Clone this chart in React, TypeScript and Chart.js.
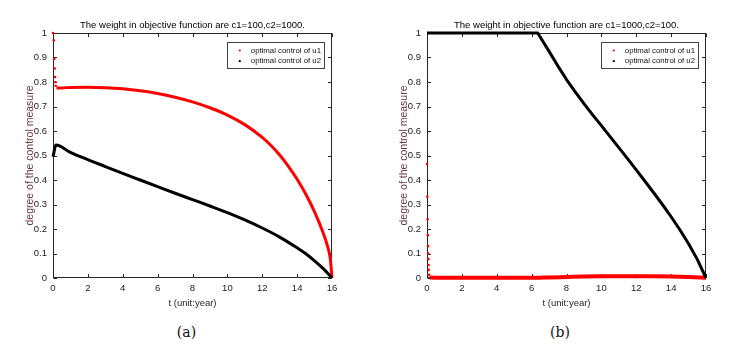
import React, { useEffect, useRef } from 'react';
import { Chart, registerables } from 'chart.js';

Chart.register(...registerables);

// ---------- tick labels ----------
const xTicks = [0, 2, 4, 6, 8, 10, 12, 14, 16];
const yTicks = [0, 0.1, 0.2, 0.3, 0.4, 0.5, 0.6, 0.7, 0.8, 0.9, 1];

// ---------- panel (a): c1=100, c2=1000 ----------
const tU1a = [0, 0.05, 0.08, 0.1, 0.12, 0.14, 0.16, 0.2, 0.5, 1, 2, 3, 4, 5, 6, 7, 8, 9, 10, 11, 12, 12.5, 13, 13.5, 14, 14.5, 15, 15.5, 15.75, 15.9, 16];
const u1a = [1.0, 0.97, 0.895, 0.855, 0.82, 0.8, 0.785, 0.776, 0.776, 0.778, 0.779, 0.777, 0.772, 0.764, 0.753, 0.738, 0.719, 0.695, 0.665, 0.626, 0.574, 0.541, 0.502, 0.456, 0.403, 0.342, 0.27, 0.183, 0.128, 0.08, 0];
const dotsU1a = 7;

const tU2a = [0, 0.05, 0.1, 0.17, 1, 2, 3, 4, 5, 6, 7, 8, 9, 10, 11, 12, 13, 14, 14.5, 15, 15.5, 16];
const u2a = [0.495, 0.51, 0.53, 0.543, 0.513, 0.483, 0.455, 0.427, 0.4, 0.373, 0.346, 0.32, 0.294, 0.267, 0.237, 0.204, 0.167, 0.123, 0.099, 0.07, 0.038, 0];

// ---------- panel (b): c1=1000, c2=100 ----------
const tU1b = [0, 0.02, 0.04, 0.05, 0.06, 0.07, 0.08, 0.09, 0.1, 0.12, 0.15, 1, 2, 3, 4, 5, 6, 6.5, 7, 8, 9, 10, 11, 12, 13, 14, 15, 16];
const u1b = [0.465, 0.332, 0.24, 0.175, 0.13, 0.1, 0.077, 0.053, 0.033, 0.013, 0.002, 0.001, 0.001, 0.001, 0.001, 0.001, 0.001, 0.0015, 0.002, 0.004, 0.006, 0.007, 0.0075, 0.0075, 0.007, 0.006, 0.004, 0.001];
const dotsU1b = 10;

const tU2b = [0, 1, 2, 3, 4, 5, 6, 6.35, 7, 7.5, 8, 8.5, 9, 9.5, 10, 10.5, 11, 11.5, 12, 12.5, 13, 13.5, 14, 14.5, 15, 15.5, 16];
const u2b = [1, 1, 1, 1, 1, 1, 1, 1, 0.925, 0.866, 0.81, 0.76, 0.712, 0.666, 0.622, 0.577, 0.532, 0.487, 0.441, 0.395, 0.348, 0.3, 0.25, 0.197, 0.14, 0.076, 0];

const legendLabels = ['optimal control of u1', 'optimal control of u2'];
const titleA = 'The weight in objective function are c1=100,c2=1000.';
const titleB = 'The weight in objective function are c1=1000,c2=100.';
const xTitle = 't (unit:year)';
const yTitle = 'degree of the control measure';

const FONT = '"Liberation Sans", Arial, Helvetica, sans-serif';
const RED = '#ff0000';
const BLACK = '#000000';
const AXIS_COLOR = '#262626';
const TICK_COLOR = '#1a1a1a';
const YTITLE_COLOR = '#6b3540';

Chart.defaults.font.family = FONT;

const pts = (ts: number[], vs: number[]) => ts.map((t, i) => ({ x: t, y: vs[i] }));

const framePlugin = {
  id: 'matlabFrame',
  beforeDatasetsDraw(chart: any) {
    const { ctx, chartArea: a, scales } = chart;
    const xs = scales.x;
    const ys = scales.y;
    const L = Math.round(a.left) + 0.5;
    const R = Math.round(a.right) - 0.5;
    const T = Math.round(a.top) + 0.5;
    const B = Math.round(a.bottom) - 0.5;
    ctx.save();
    ctx.strokeStyle = AXIS_COLOR;
    ctx.lineWidth = 1;
    ctx.strokeRect(L, T, R - L, B - T);
    ctx.beginPath();
    const len = 3.5;
    xTicks.forEach((v) => {
      const px = Math.round(xs.getPixelForValue(v)) + 0.5;
      ctx.moveTo(px, B);
      ctx.lineTo(px, B - len);
      ctx.moveTo(px, T);
      ctx.lineTo(px, T + len);
    });
    yTicks.forEach((v) => {
      const py = Math.round(ys.getPixelForValue(v)) + 0.5;
      ctx.moveTo(L, py);
      ctx.lineTo(L + len, py);
      ctx.moveTo(R, py);
      ctx.lineTo(R - len, py);
    });
    ctx.stroke();
    ctx.restore();
  },
};

const boxLegendPlugin = {
  id: 'boxLegend',
  afterDatasetsDraw(chart: any) {
    const { ctx, chartArea: a } = chart;
    const items = chart.data.datasets.map((d: any) => ({ label: d.label, color: d.borderColor }));
    ctx.save();
    ctx.font = '7.8px ' + FONT;
    const textW = Math.max(...items.map((i: any) => ctx.measureText(i.label).width));
    const w = 24 + textW + 3;
    const h = 26;
    const x0 = a.right - 8 - w;
    const y0 = a.top + 9;
    ctx.fillStyle = '#ffffff';
    ctx.fillRect(x0, y0, w, h);
    ctx.strokeStyle = '#444444';
    ctx.lineWidth = 1;
    ctx.strokeRect(Math.round(x0) + 0.5, Math.round(y0) + 0.5, Math.round(w), h);
    items.forEach((it: any, i: number) => {
      const cy = y0 + 8.5 + i * 10.7;
      ctx.fillStyle = it.color;
      ctx.beginPath();
      ctx.arc(x0 + 13, cy, 1.1, 0, Math.PI * 2);
      ctx.fill();
      ctx.fillStyle = '#111111';
      ctx.textBaseline = 'middle';
      ctx.textAlign = 'left';
      ctx.fillText(it.label, x0 + 24, cy);
    });
    ctx.restore();
  },
};

function makeConfig(title: string, u1: any[], dots1: number, u2: any[], u2Tension: number, u1Width: number) {
  return {
    type: 'line',
    data: {
      datasets: [
        {
          label: legendLabels[0],
          data: u1,
          borderColor: RED,
          backgroundColor: RED,
          borderWidth: u1Width,
          pointRadius: (c: any) => (c.dataIndex < dots1 ? 1.3 : 0),
          pointBorderWidth: 0,
          pointBackgroundColor: RED,
          pointHoverRadius: 0,
          cubicInterpolationMode: 'monotone',
          segment: { borderColor: (c: any) => (c.p0DataIndex < dots1 ? 'rgba(0,0,0,0)' : undefined) },
          clip: false,
          order: 1,
        },
        {
          label: legendLabels[1],
          data: u2,
          borderColor: BLACK,
          backgroundColor: BLACK,
          borderWidth: 3,
          pointRadius: 0,
          pointHoverRadius: 0,
          tension: u2Tension,
          cubicInterpolationMode: u2Tension > 0 ? 'monotone' : 'default',
          borderJoinStyle: 'round',
          clip: false,
          order: 0,
        },
      ],
    },
    options: {
      animation: false,
      responsive: false,
      events: [],
      layout: { padding: { left: 0, right: 13, top: 0, bottom: 0 } },
      scales: {
        x: {
          type: 'linear',
          min: 0,
          max: 16,
          afterBuildTicks: (s: any) => {
            s.ticks = xTicks.map((v) => ({ value: v }));
          },
          afterFit: (s: any) => {
            s.height = 42;
          },
          grid: { display: false, drawTicks: false },
          border: { display: false },
          ticks: {
            color: TICK_COLOR,
            font: { size: 9.5 },
            padding: 5,
            maxRotation: 0,
            autoSkip: false,
            callback: (v: any) => String(v),
          },
          title: {
            display: true,
            text: xTitle,
            color: AXIS_COLOR,
            font: { size: 9.5 },
            padding: { top: 0, bottom: 11 },
          },
        },
        y: {
          type: 'linear',
          min: 0,
          max: 1,
          afterBuildTicks: (s: any) => {
            s.ticks = yTicks.map((v) => ({ value: v }));
          },
          afterFit: (s: any) => {
            s.width = 53;
          },
          grid: { display: false, drawTicks: false },
          border: { display: false },
          ticks: {
            color: TICK_COLOR,
            font: { size: 9.5 },
            padding: 6,
            autoSkip: false,
            callback: (v: any) => String(v),
          },
          title: {
            display: true,
            text: yTitle,
            color: YTITLE_COLOR,
            font: { size: 10.5 },
            padding: { top: 24, bottom: 0 },
          },
        },
      },
      plugins: {
        legend: { display: false },
        tooltip: { enabled: false },
        title: {
          display: true,
          text: title,
          fullSize: false,
          color: '#000000',
          font: { size: 9.5, weight: 'normal' },
          padding: { top: 20, bottom: 1.6 },
        },
      },
    },
    plugins: [framePlugin, boxLegendPlugin],
  };
}

function Panel({ left, config }: { left: number; config: any }) {
  const ref = useRef<HTMLCanvasElement | null>(null);
  useEffect(() => {
    if (!ref.current) return;
    const chart = new Chart(ref.current, config);
    return () => chart.destroy();
  }, []);
  return (
    <canvas
      ref={ref}
      width={345}
      height={320}
      style={{ position: 'absolute', left, top: 0, width: 345, height: 320 }}
    />
  );
}

const capStyle = (cx: number): React.CSSProperties => ({
  position: 'absolute',
  left: cx - 50,
  top: 324,
  width: 100,
  height: 16,
  lineHeight: '16px',
  textAlign: 'center',
  fontFamily: '"DejaVu Serif", "Liberation Serif", serif',
  fontSize: 14,
  color: '#111',
});

export default function App() {
  const cfgA = makeConfig(titleA, pts(tU1a, u1a), dotsU1a, pts(tU2a, u2a), 0.4, 3);
  const cfgB = makeConfig(titleB, pts(tU1b, u1b), dotsU1b, pts(tU2b, u2b), 0, 4);
  return (
    <div style={{ position: 'absolute', left: 0, top: 0, width: 741, height: 357, background: '#fff', overflow: 'hidden' }}>
      <Panel left={0} config={cfgA} />
      <Panel left={374} config={cfgB} />
      <div style={capStyle(186.5)}>(a)</div>
      <div style={capStyle(560)}>(b)</div>
    </div>
  );
}
